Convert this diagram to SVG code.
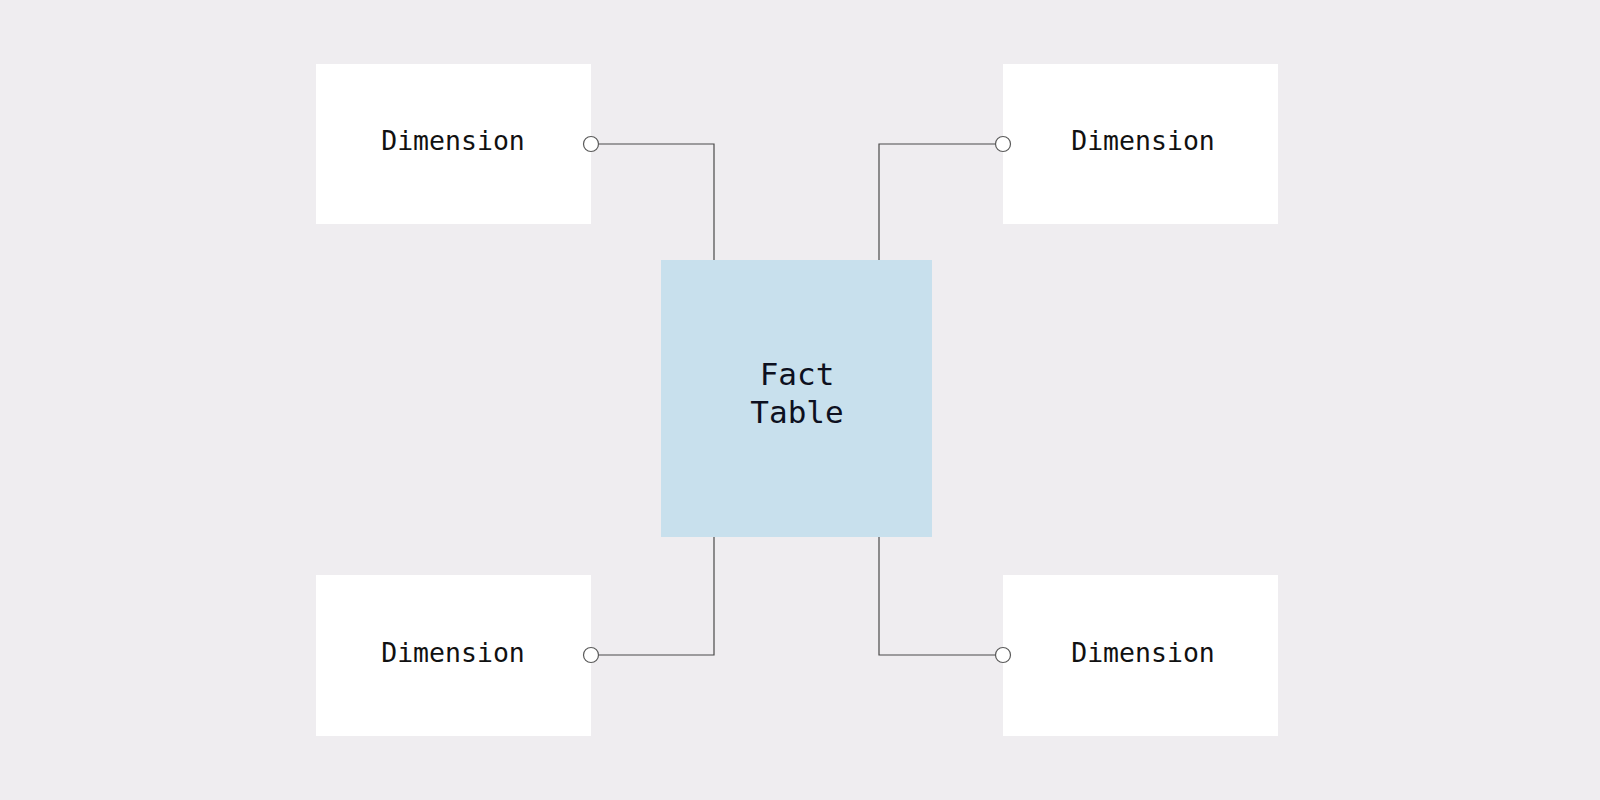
<svg xmlns="http://www.w3.org/2000/svg" width="1600" height="800" viewBox="0 0 1600 800">
<style>
.dim{fill:#ffffff}
.fact{fill:#c8e0ed}
.lbl{font-family:"DejaVu Sans Mono","Liberation Mono",monospace;font-size:26.5px;fill:#111111;text-anchor:middle}
.flbl{font-family:"DejaVu Sans Mono","Liberation Mono",monospace;font-size:31px;fill:#0d1020;text-anchor:middle}
.conn{fill:none;stroke:#4a4a4a;stroke-width:1.2}
.port{fill:#ffffff;stroke:#5a5a5a;stroke-width:1.2}
</style>
<rect width="1600" height="800" fill="#efedf0"/>
<g id="connectors">
<path class="conn" d="M591 144 H714 V260"/>
<path class="conn" d="M1003 144 H879 V260"/>
<path class="conn" d="M714 537 V655 H591"/>
<path class="conn" d="M879 537 V655 H1003"/>
</g>
<g id="dim-top-left">
<rect class="dim" x="316" y="64" width="275" height="160"/>
<text class="lbl" x="453" y="150">Dimension</text>
<circle class="port" cx="591" cy="144" r="7.5"/>
</g>
<g id="dim-top-right">
<rect class="dim" x="1003" y="64" width="275" height="160"/>
<text class="lbl" x="1143" y="150">Dimension</text>
<circle class="port" cx="1003" cy="144" r="7.5"/>
</g>
<g id="dim-bottom-left">
<rect class="dim" x="316" y="575" width="275" height="161"/>
<text class="lbl" x="453" y="662">Dimension</text>
<circle class="port" cx="591" cy="655" r="7.5"/>
</g>
<g id="dim-bottom-right">
<rect class="dim" x="1003" y="575" width="275" height="161"/>
<text class="lbl" x="1143" y="662">Dimension</text>
<circle class="port" cx="1003" cy="655" r="7.5"/>
</g>
<g id="fact-table">
<rect class="fact" x="661" y="260" width="271" height="277"/>
<text class="flbl" x="797" y="385">Fact</text>
<text class="flbl" x="797" y="423">Table</text>
</g>
</svg>
